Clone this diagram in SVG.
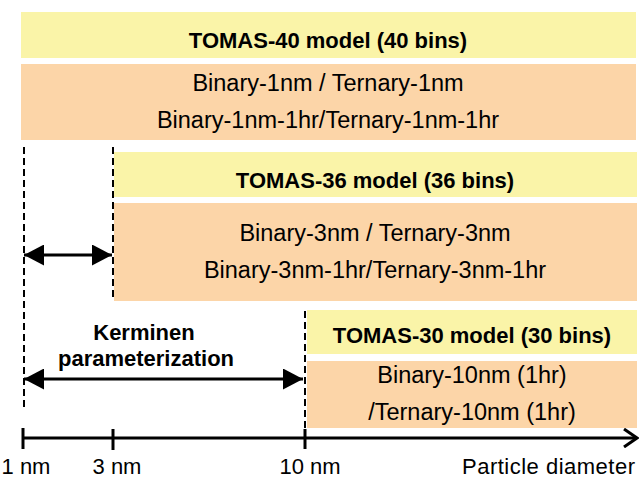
<svg xmlns="http://www.w3.org/2000/svg" width="640" height="478" viewBox="0 0 640 478">
<defs>
<style>
.yel{fill:#FAF4A8}
.org{fill:#FCD5A8}
.t{font-family:"Liberation Sans",Arial,sans-serif;fill:#000}
.b{font-weight:bold;font-size:22px}
.r{font-size:23.5px}
.a{font-size:22px}
.c{text-anchor:middle}
.dash{stroke:#000;stroke-width:2;stroke-dasharray:7 4;fill:none}
.ln{stroke:#000;stroke-width:3;fill:none}
</style>
<marker id="ah" viewBox="0 0 20 21" refX="20" refY="10.5" markerWidth="20" markerHeight="21" markerUnits="userSpaceOnUse" orient="auto-start-reverse">
<path d="M0,0 L20,10.5 L0,21 Z" fill="#000"/>
</marker>
<marker id="open" viewBox="0 0 16 20" refX="14" refY="10" markerWidth="16" markerHeight="20" markerUnits="userSpaceOnUse" orient="auto">
<path d="M1,1 L14,10 L1,19" fill="none" stroke="#000" stroke-width="3"/>
</marker>
</defs>
<rect width="640" height="478" fill="#fff"/>
<g id="tomas40">
<rect class="yel" x="21" y="12" width="615" height="46"/>
<text class="t b c" x="328" y="48">TOMAS-40 model (40 bins)</text>
<rect class="org" x="21" y="64" width="615" height="76"/>
<text class="t r c" x="328" y="91">Binary-1nm / Ternary-1nm</text>
<text class="t r c" x="328" y="128">Binary-1nm-1hr/Ternary-1nm-1hr</text>
</g>
<g id="tomas36">
<rect class="yel" x="114" y="152" width="523" height="45"/>
<text class="t b c" x="375" y="188">TOMAS-36 model (36 bins)</text>
<rect class="org" x="114" y="203" width="523" height="98"/>
<text class="t r c" x="375" y="241">Binary-3nm / Ternary-3nm</text>
<text class="t r c" x="375" y="278">Binary-3nm-1hr/Ternary-3nm-1hr</text>
</g>
<g id="tomas30">
<rect class="yel" x="307" y="310" width="330" height="44"/>
<text class="t b c" x="472" y="343">TOMAS-30 model (30 bins)</text>
<rect class="org" x="307" y="361" width="330" height="67"/>
<text class="t r c" x="472" y="383">Binary-10nm (1hr)</text>
<text class="t r c" x="472" y="420">/Ternary-10nm (1hr)</text>
</g>
<g id="kerminen">
<text class="t b c" x="144" y="340">Kerminen</text>
<text class="t b c" x="146" y="366">parameterization</text>
</g>
<g id="connectors">
<line class="dash" x1="24" y1="147" x2="24" y2="410"/>
<line class="dash" x1="113" y1="147" x2="113" y2="301"/>
<line class="dash" x1="305" y1="311" x2="305" y2="428"/>
<line class="ln" x1="24" y1="255" x2="112" y2="255" marker-start="url(#ah)" marker-end="url(#ah)"/>
<line class="ln" x1="24" y1="379" x2="303" y2="379" marker-start="url(#ah)" marker-end="url(#ah)"/>
<line class="ln" x1="23" y1="438" x2="637" y2="438" marker-end="url(#open)"/>
<line class="ln" x1="23" y1="428" x2="23" y2="449"/>
<line class="ln" x1="113" y1="429" x2="113" y2="450"/>
<line class="ln" x1="305" y1="429" x2="305" y2="449"/>
</g>
<g id="axis-labels">
<text class="t a c" x="26" y="474">1 nm</text>
<text class="t a c" x="117" y="474">3 nm</text>
<text class="t a c" x="310" y="474">10 nm</text>
<text class="t a" x="635" y="474" text-anchor="end" textLength="173">Particle diameter</text>
</g>
</svg>
